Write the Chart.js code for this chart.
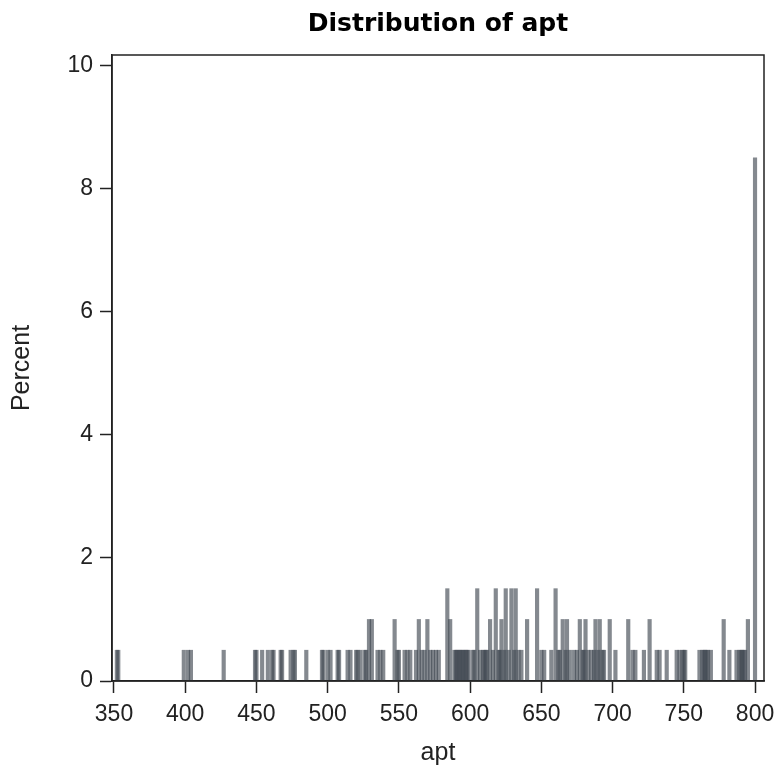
<!DOCTYPE html>
<html>
<head>
<meta charset="utf-8">
<script src="https://cdn.jsdelivr.net/npm/chart.js@4/dist/chart.umd.min.js"></script>
<style>
html,body{margin:0;padding:0;background:#fff;}
#wrap{width:774px;height:771px;}
</style>
</head>
<body>
<div id="wrap"><canvas id="c" width="774" height="771"></canvas></div>
<script>
// apt score values present in the sample and their percent of observations
const aptValues = [
  352, 353, 399, 402, 404, 427,
  449, 450, 454, 458, 461, 462, 467, 468, 474, 476, 477, 485, 496, 497,
  500, 502, 507, 508, 514, 516, 520, 521, 523, 526, 527,
  529, 531, 535, 537, 539, 547, 549, 550, 554, 556, 558,
  562, 564, 566, 568, 570, 572, 574, 576, 578, 584, 586,
  589, 590, 591, 592, 593, 594, 595, 596, 597, 598, 599, 602, 603, 605, 607,
  609, 610, 611, 612, 614, 616, 618, 620, 621, 622, 624, 625, 627, 629, 631, 632, 634, 636, 640,
  647, 650, 652, 657, 660, 662, 663, 665, 667, 668, 670,
  673, 675, 677, 679, 680, 681, 683, 685, 687, 688, 690, 691, 693, 694, 698, 702,
  711, 714, 716, 722, 726, 731, 733, 738, 745, 747, 749, 750, 751,
  761, 763, 764, 765, 766, 767, 769, 778, 782, 787, 789, 790, 791, 792, 793, 795, 800
];
const percentValues = [
  0.5, 0.5, 0.5, 0.5, 0.5, 0.5,
  0.5, 0.5, 0.5, 0.5, 0.5, 0.5, 0.5, 0.5, 0.5, 0.5, 0.5, 0.5, 0.5, 0.5,
  0.5, 0.5, 0.5, 0.5, 0.5, 0.5, 0.5, 0.5, 0.5, 0.5, 0.5,
  1.0, 1.0, 0.5, 0.5, 0.5, 1.0, 0.5, 0.5, 0.5, 0.5, 0.5,
  0.5, 1.0, 0.5, 0.5, 1.0, 0.5, 0.5, 0.5, 0.5, 1.5, 1.0,
  0.5, 0.5, 0.5, 0.5, 0.5, 0.5, 0.5, 0.5, 0.5, 0.5, 0.5, 0.5, 0.5, 1.5, 0.5,
  0.5, 0.5, 0.5, 0.5, 1.0, 0.5, 1.5, 0.5, 0.5, 1.0, 0.5, 1.5, 0.5, 1.5, 0.5, 1.5, 0.5, 0.5, 1.0,
  1.5, 0.5, 0.5, 0.5, 1.5, 0.5, 0.5, 1.0, 0.5, 1.0, 0.5,
  0.5, 0.5, 1.0, 0.5, 0.5, 1.0, 0.5, 0.5, 0.5, 1.0, 0.5, 1.0, 0.5, 0.5, 1.0, 0.5,
  1.0, 0.5, 0.5, 0.5, 1.0, 0.5, 0.5, 0.5, 0.5, 0.5, 0.5, 0.5, 0.5,
  0.5, 0.5, 0.5, 0.5, 0.5, 0.5, 0.5, 1.0, 0.5, 0.5, 0.5, 0.5, 0.5, 0.5, 0.5, 1.0, 8.5
];
const xTickValues = [350, 400, 450, 500, 550, 600, 650, 700, 750, 800];
const yTickValues = [0, 2, 4, 6, 8, 10];
const chartTitle = 'Distribution of apt';
const xAxisTitle = 'apt';
const yAxisTitle = 'Percent';

const points = aptValues.map((v, i) => ({ x: v, y: percentValues[i] }));

const framePlugin = {
  id: 'frame',
  afterDatasetsDraw(chart) {
    const { ctx, chartArea: a } = chart;
    ctx.save();
    ctx.strokeStyle = '#222';
    ctx.lineWidth = 1.5;
    ctx.strokeRect(a.left, a.top, a.right - a.left, a.bottom - a.top);
    ctx.restore();
  }
};

new Chart(document.getElementById('c'), {
  type: 'bar',
  data: {
    datasets: [{
      label: yAxisTitle,
      data: points,
      backgroundColor: 'rgba(62,70,80,0.64)',
      borderWidth: 0,
      barThickness: 3.5
    }]
  },
  options: {
    responsive: false,
    animation: false,
    layout: { padding: { left: 0, right: 10, top: 0, bottom: 0 } },
    plugins: {
      legend: { display: false },
      tooltip: { enabled: false },
      title: {
        display: true,
        text: chartTitle,
        fullSize: false,
        color: '#000',
        font: { family: 'DejaVu Sans', size: 25, weight: 'bold' },
        padding: { top: 9, bottom: 16 }
      }
    },
    scales: {
      x: {
        type: 'linear',
        offset: false,
        min: 348.6,
        max: 806.3,
        afterBuildTicks(s) { s.ticks = xTickValues.map(v => ({ value: v })); },
        afterFit(s) { s.height = 90; s.paddingLeft = 0; s.paddingRight = 0; },
        grid: { offset: false, drawOnChartArea: false, drawTicks: true, tickLength: 12, tickColor: '#222', tickWidth: 1.5 },
        border: { display: true, color: '#222', width: 1.5 },
        ticks: { padding: 8, color: '#222', autoSkip: false, maxRotation: 0, font: { family: 'Liberation Sans', size: 23 } },
        title: { display: true, text: xAxisTitle, color: '#222', font: { family: 'Liberation Sans', size: 25 }, padding: { top: 0, bottom: 3 } }
      },
      y: {
        min: 0,
        max: 10.17,
        afterBuildTicks(s) { s.ticks = yTickValues.map(v => ({ value: v })); },
        afterFit(s) { s.width = 112; s.paddingTop = 0; s.paddingBottom = 0; },
        grid: { drawOnChartArea: false, drawTicks: true, tickLength: 12, tickColor: '#222', tickWidth: 1.5 },
        border: { display: true, color: '#222', width: 1.5 },
        ticks: { padding: 7, color: '#222', font: { family: 'Liberation Sans', size: 23 } },
        title: { display: true, text: yAxisTitle, color: '#222', font: { family: 'Liberation Sans', size: 25 }, padding: { top: 7, bottom: 0 } }
      }
    }
  },
  plugins: [framePlugin]
});
</script>
</body>
</html>
